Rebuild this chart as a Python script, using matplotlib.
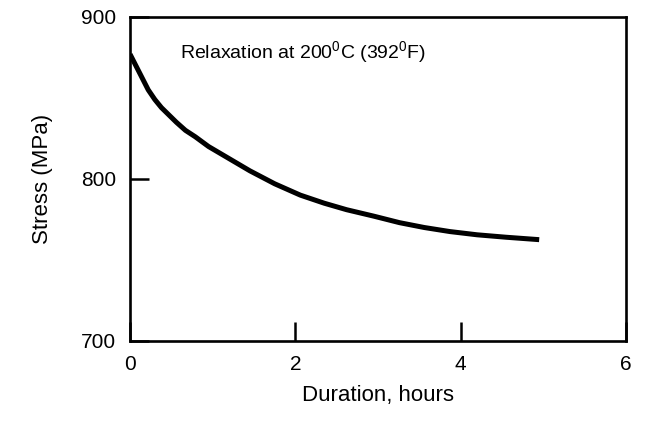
import matplotlib
matplotlib.use('Agg')
import matplotlib.pyplot as plt

plt.rcParams['font.family'] = ['Liberation Sans', 'DejaVu Sans']
plt.rcParams['mathtext.fontset'] = 'custom'
plt.rcParams['mathtext.rm'] = 'Liberation Sans'

# curve
hours = [0, 0.05, 0.1, 0.16, 0.22, 0.3, 0.38, 0.46, 0.56, 0.67, 0.79, 0.95,
         1.15, 1.45, 1.75, 2.06, 2.35, 2.62, 2.95, 3.26, 3.56, 3.87, 4.2, 4.55, 4.95]
stress = [877, 872, 867, 861, 855, 849, 844, 840, 835, 830, 826, 820,
          814, 805, 797, 790, 785, 781, 777, 773, 770, 767.5, 765.5, 764, 762.5]

x_ticks = [0, 2, 4, 6]
y_ticks = [700, 800, 900]

fig = plt.figure(figsize=(6.47, 4.24), dpi=100)
ax = fig.add_axes([0.201, 0.196, 0.7665, 0.764])

ax.plot(hours, stress, color='black', linewidth=3.6, solid_capstyle='butt',
        solid_joinstyle='round')

ax.set_xlim(0, 6)
ax.set_ylim(700, 900)
ax.set_xticks(x_ticks)
ax.set_yticks(y_ticks)
ax.tick_params(direction='in', length=14, width=1.8, labelsize=15, pad=10)

for s in ax.spines.values():
    s.set_linewidth(1.9)

ax.set_xlabel('Duration, hours', fontsize=16, labelpad=8)
ax.set_ylabel('Stress (MPa)', fontsize=16)
ax.yaxis.set_label_coords(-0.155, 0.5)

ax.text(0.1, 0.889, r'Relaxation at 200$^{\mathrm{0}}$C (392$^{\mathrm{0}}$F)',
        transform=ax.transAxes, fontsize=14, va='center', ha='left')

plt.savefig('out.png', dpi=100)
